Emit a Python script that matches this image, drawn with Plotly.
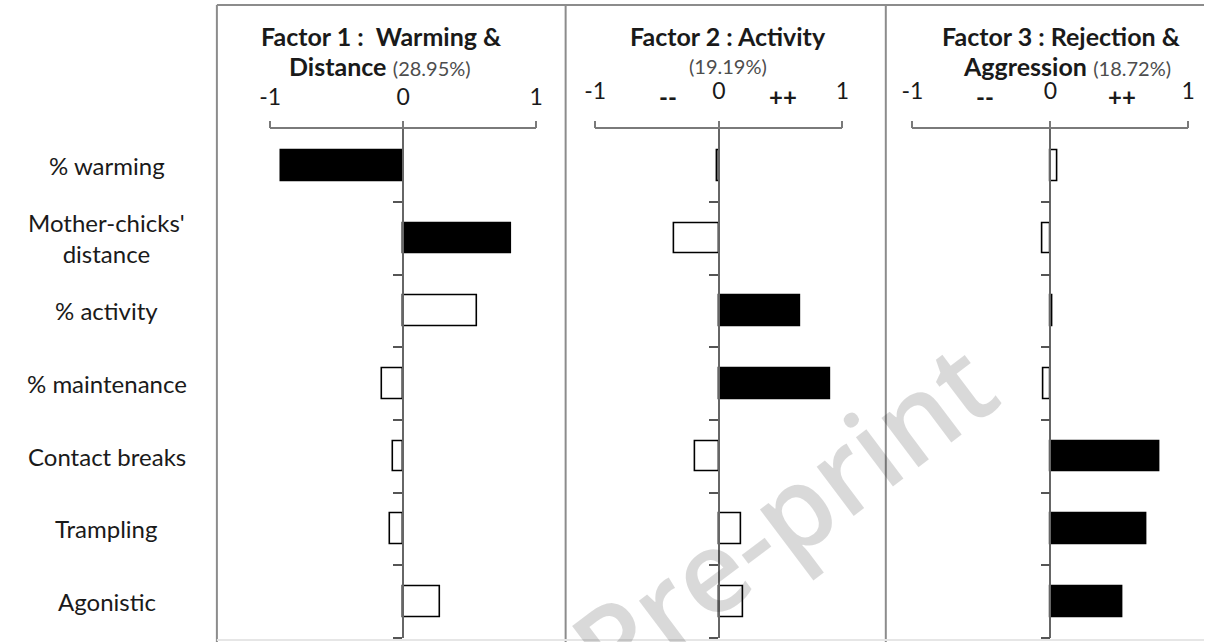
import plotly.graph_objects as go

W, H = 1211, 642

categories = ["% warming", "Mother-chicks'<br>distance", "% activity", "% maintenance",
              "Contact breaks", "Trampling", "Agonistic"]

factor1 = [-0.92, 0.815, 0.555, -0.155, -0.074, -0.10, 0.28]
factor2 = [-0.012, -0.36, 0.66, 0.90, -0.195, 0.18, 0.20]
factor3 = [0.052, -0.055, 0.016, -0.048, 0.79, 0.70, 0.52]

strong1 = [True, True, False, False, False, False, False]
strong2 = [False, False, True, True, False, False, False]
strong3 = [False, False, False, False, True, True, True]

titles_line1 = ["Factor 1 :  Warming &", "Factor 2 : Activity", "Factor 3 : Rejection &"]
titles_line2_bold = ["Distance", "", "Aggression"]
percents = ["(28.95%)", "(19.19%)", "(18.72%)"]

tick_vals = [-1, 0, 1]
tick_text = ["-1", "0", "1"]
sign_text = ["--", "++"]

FONT = "Lato"
TXT = "#1a1a1a"
AX = "#7a7a7a"

# panel geometry (pixels)
x_ends = [(263, 533), (593, 844), (915, 1195)]
sep_x = [209, 563, 888]
y_top_px, y_bot_px = 129.3, 638.0

def px(x):
    return x / W

def py(y):
    return 1 - y / H

fig = go.Figure()
ys = list(range(len(categories)))
for i, (vals, strong) in enumerate([(factor1, strong1), (factor2, strong2), (factor3, strong3)]):
    sfx = "" if i == 0 else str(i + 1)
    fig.add_trace(go.Bar(
        x=vals, y=ys, orientation="h", width=0.42,
        marker=dict(color=["black" if s else "white" for s in strong],
                    line=dict(color="black", width=1.6)),
        xaxis="x" + sfx, yaxis="y" + sfx, showlegend=False, hoverinfo="skip"))

layout = dict(width=W, height=H, margin=dict(l=0, r=0, t=0, b=0), autosize=False,
              paper_bgcolor="white", plot_bgcolor="rgba(0,0,0,0)",
              font=dict(family=FONT, color=TXT), bargap=0)

standoffs = [6, 12, 12]
for i, (a, b) in enumerate(x_ends):
    sfx = "" if i == 0 else str(i + 1)
    zero_px = (a + b) / 2
    layout["xaxis" + sfx] = dict(
        domain=[px(a), px(b)], range=[-1, 1], side="top", anchor="y" + sfx,
        tickvals=tick_vals, ticktext=tick_text, ticks="outside", ticklen=7,
        tickcolor=AX, tickwidth=1.5, showline=True, linecolor=AX, linewidth=1.5,
        showgrid=False, zeroline=False, tickfont=dict(size=23, color=TXT, family=FONT),
        ticklabelstandoff=standoffs[i], fixedrange=True)
    layout["yaxis" + sfx] = dict(
        domain=[py(y_bot_px), py(y_top_px)], range=[len(categories) - 0.5, -0.5],
        anchor="free", position=px(zero_px), side="left",
        tickvals=[k + 0.5 for k in ys], showticklabels=False, ticks="outside",
        ticklen=9, tickcolor="#555", tickwidth=1.5, showline=True, linecolor="#666",
        linewidth=1.6, showgrid=False, zeroline=False, fixedrange=True)

fig.update_layout(**layout)

annotations = []
# category labels
for k, c in enumerate(categories):
    annotations.append(dict(x=px(97), y=k, xref="paper", yref="y", text=c,
                            showarrow=False, xanchor="center", yanchor="middle",
                            align="center", font=dict(size=24, color=TXT, family=FONT)))

# titles
title_cx = [376, 728, 1066]
line2_cx = [375, 728, 1072]
for i in range(3):
    annotations.append(dict(x=px(title_cx[i]), y=py(36), xref="paper", yref="paper",
                            text="<b>" + titles_line1[i] + "</b>", showarrow=False,
                            xanchor="center", yanchor="middle",
                            font=dict(size=25, color=TXT, family=FONT)))
    if titles_line2_bold[i]:
        t2 = ("<b>" + titles_line2_bold[i] + "</b> <span style='font-size:20px;color:#4d4d4d'>"
              + percents[i] + "</span>")
    else:
        t2 = "<span style='font-size:20px;color:#4d4d4d'>" + percents[i] + "</span>"
    annotations.append(dict(x=px(line2_cx[i]), y=py(66), xref="paper", yref="paper",
                            text=t2, showarrow=False, xanchor="center", yanchor="middle",
                            font=dict(size=25, color=TXT, family=FONT)))

# "--" / "++" markers on factor 2 and 3 axes
sign_pos = {"x2": [-0.41, 0.52], "x3": [-0.47, 0.52]}
for ax, pos in sign_pos.items():
    for t, p in zip(sign_text, pos):
        annotations.append(dict(x=p, y=py(97), xref=ax, yref="paper", text="<b>" + t + "</b>",
                                showarrow=False, xanchor="center", yanchor="middle",
                                font=dict(size=24, color=TXT, family=FONT)))

# watermark
annotations.append(dict(x=px(782), y=py(514), xref="paper", yref="paper",
                        text="Pre-print",
                        showarrow=False, textangle=-37, xanchor="center", yanchor="middle",
                        font=dict(size=114, color="rgba(0,0,0,0.15)", family="Open Sans",
                                  weight=600)))

fig.update_layout(annotations=annotations)

# panel frame lines
shapes = [dict(type="line", xref="paper", yref="paper", x0=px(sep_x[0]), x1=1,
               y0=py(5), y1=py(5), line=dict(color="#8c8c8c", width=2))]
for sx in sep_x:
    shapes.append(dict(type="line", xref="paper", yref="paper", x0=px(sx), x1=px(sx),
                       y0=py(5), y1=0, line=dict(color="#8c8c8c", width=2)))
shapes.append(dict(type="line", xref="paper", yref="paper", x0=px(sep_x[0]), x1=1,
                   y0=py(640), y1=py(640), line=dict(color="#e6e6e6", width=2)))
fig.update_layout(shapes=shapes)

fig.write_html("out.html", config={"displayModeBar": False},
               post_script="document.body.style.margin='0';document.body.style.overflow='hidden';")
